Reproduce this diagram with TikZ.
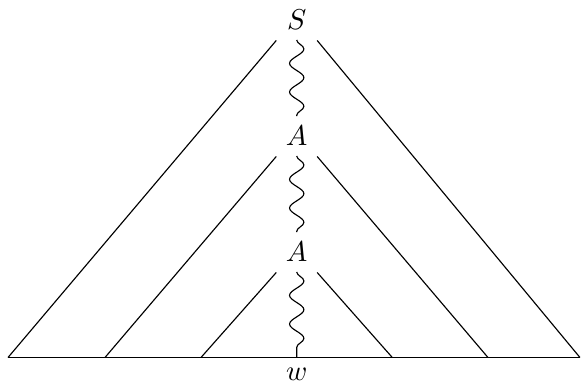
\documentclass[tikz,border=0pt]{standalone}
\usepackage{amsmath, amssymb}
\usepackage{tikz}
\usetikzlibrary{calc, decorations.pathmorphing}

\tikzset{wavy/.style={decorate,decoration=snake}}

\begin{document}
\begin{tikzpicture}
  \useasboundingbox (0,0) rectangle (7.124,4.688);
  % Nodes on the spine
  \node (S) at (3.632,4.443) {$S$};
  \node (A1) at (3.632,3.023) {$A$};
  \node (A2) at (3.632,1.603) {$A$};
  % Base line
  \coordinate (bl) at (0.098,0.312);
  \coordinate (br) at (7.099,0.312);
  \coordinate (m) at (3.632,0.312);
  \draw (bl) -- (br);
  \node[below] (w) at (m) {$w$};
  % Feet of the sides
  \coordinate (b1) at (0.098,0.312);
  \coordinate (b2) at (1.285,0.312);
  \coordinate (b3) at (2.460,0.312);
  \coordinate (b4) at (4.802,0.312);
  \coordinate (b5) at (5.973,0.312);
  \coordinate (b6) at (7.099,0.312);
  % Sides
  \draw ($(S)+(-0.25,-0.25)$) -- (b1);
  \draw ($(S)+(0.25,-0.25)$) -- (b6);
  \draw ($(A1)+(-0.25,-0.25)$) -- (b2);
  \draw ($(A1)+(0.25,-0.25)$) -- (b5);
  \draw ($(A2)+(-0.25,-0.25)$) -- (b3);
  \draw ($(A2)+(0.25,-0.25)$) -- (b4);
  % Paths down the spine
  \draw[wavy] (S) -- (A1);
  \draw[wavy] (A1) -- (A2);
  \draw[wavy] (A2) -- (m);
\end{tikzpicture}
\end{document}
